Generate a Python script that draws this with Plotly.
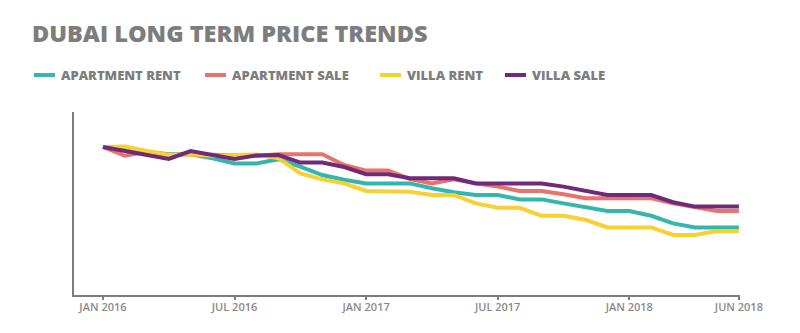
import plotly.graph_objects as go

# Monthly index values (Jan 2016 = 100), Jan 2016 .. Jun 2018
months = [
    "Jan 2016", "Feb 2016", "Mar 2016", "Apr 2016", "May 2016", "Jun 2016",
    "Jul 2016", "Aug 2016", "Sep 2016", "Oct 2016", "Nov 2016", "Dec 2016",
    "Jan 2017", "Feb 2017", "Mar 2017", "Apr 2017", "May 2017", "Jun 2017",
    "Jul 2017", "Aug 2017", "Sep 2017", "Oct 2017", "Nov 2017", "Dec 2017",
    "Jan 2018", "Feb 2018", "Mar 2018", "Apr 2018", "May 2018", "Jun 2018",
]

apartment_rent = [100, 100, 98.8, 98.2, 98.2, 97.2, 95.9, 95.9, 96.9, 95.1,
                  93.0, 91.8, 90.9, 90.9, 90.9, 89.7, 88.7, 88.0, 88.0, 86.9,
                  86.9, 85.9, 84.9, 84.0, 84.0, 82.8, 80.9, 79.9, 79.9, 79.9]
apartment_sale = [100, 97.8, 98.8, 98.0, 98.2, 98.0, 98.0, 97.8, 98.2, 98.2,
                  98.2, 95.5, 94.1, 94.1, 92.0, 90.9, 91.9, 90.9, 90.1, 89.0,
                  89.0, 88.2, 87.2, 87.2, 87.2, 87.2, 85.9, 84.9, 84.0, 84.0]
villa_rent = [100, 100.1, 99.0, 98.0, 98.2, 97.8, 98.0, 98.1, 97.2, 93.4,
              91.9, 90.9, 89.0, 89.0, 88.8, 88.0, 88.0, 85.9, 84.8, 84.8,
              82.8, 82.8, 81.8, 79.9, 79.9, 79.9, 78.0, 78.0, 79.0, 79.0]
villa_sale = [100, 99.0, 98.2, 97.0, 99.0, 98.0, 97.0, 97.9, 98.0, 96.1,
              96.1, 95.0, 93.2, 93.2, 92.2, 92.2, 92.2, 90.9, 90.9, 90.9,
              90.9, 90.1, 89.0, 88.0, 88.0, 88.0, 86.2, 85.1, 85.1, 85.1]

series_names = ["APARTMENT RENT", "APARTMENT SALE", "VILLA RENT", "VILLA SALE"]
series_values = [apartment_rent, apartment_sale, villa_rent, villa_sale]
series_colors = ["#35b6ac", "#e8736c", "#f8d032", "#702a78"]

tick_months = ["Jan 2016", "Jul 2016", "Jan 2017", "Jul 2017", "Jan 2018", "Jun 2018"]
tick_labels = ["JAN 2016", "JUL 2016", "JAN 2017", "JUL 2017", "JAN 2018", "JUN 2018"]

GRAY = "#7d7d7d"
W, H = 800, 333
M_L, M_R, M_T, M_B = 74, 60, 112, 38
PW, PH = W - M_L - M_R, H - M_T - M_B

fig = go.Figure()
for name, vals, col in zip(series_names, series_values, series_colors):
    fig.add_trace(go.Scatter(
        x=months, y=vals, mode="lines", name=name,
        line=dict(color=col, width=4), showlegend=False,
    ))


def px_x(px):
    return (px - M_L) / PW


def px_y(py):
    return (H - M_B - py) / PH


# Hand-placed legend row above the plot
legend_x = [34, 205, 380, 505]
legend_y = 75
for lx, name, col in zip(legend_x, series_names, series_colors):
    fig.add_shape(type="line", xref="paper", yref="paper",
                  x0=px_x(lx), x1=px_x(lx + 21), y0=px_y(legend_y), y1=px_y(legend_y),
                  line=dict(color=col, width=4))
    fig.add_annotation(xref="paper", yref="paper", x=px_x(lx + 25), y=px_y(legend_y),
                       text=name, showarrow=False, xanchor="left", yanchor="middle",
                       font=dict(family="Open Sans", size=13, color=GRAY, weight=800))

fig.update_layout(
    width=W, height=H,
    margin=dict(l=M_L, r=M_R, t=M_T, b=M_B),
    paper_bgcolor="white", plot_bgcolor="white",
    title=dict(text="DUBAI LONG TERM PRICE TRENDS", x=32 / W, xanchor="left",
               xref="container", yref="container", y=1 - 34 / H, yanchor="middle",
               font=dict(family="Open Sans", size=23.5, color=GRAY, weight=800)),
    xaxis=dict(
        type="category", range=[-1.32, 29.05],
        tickmode="array", tickvals=tick_months, ticktext=tick_labels,
        ticks="outside", ticklen=3, tickwidth=2, tickcolor=GRAY,
        ticklabelstandoff=-2,
        showline=True, linecolor=GRAY, linewidth=2, showgrid=False, zeroline=False,
        tickfont=dict(family="Open Sans", size=11, color="#8a8a8a", weight=600),
    ),
    yaxis=dict(
        range=[63, 108.75], showticklabels=False, ticks="",
        showline=True, linecolor=GRAY, linewidth=2, showgrid=False, zeroline=False,
    ),
)

fig.write_html("out.html")
